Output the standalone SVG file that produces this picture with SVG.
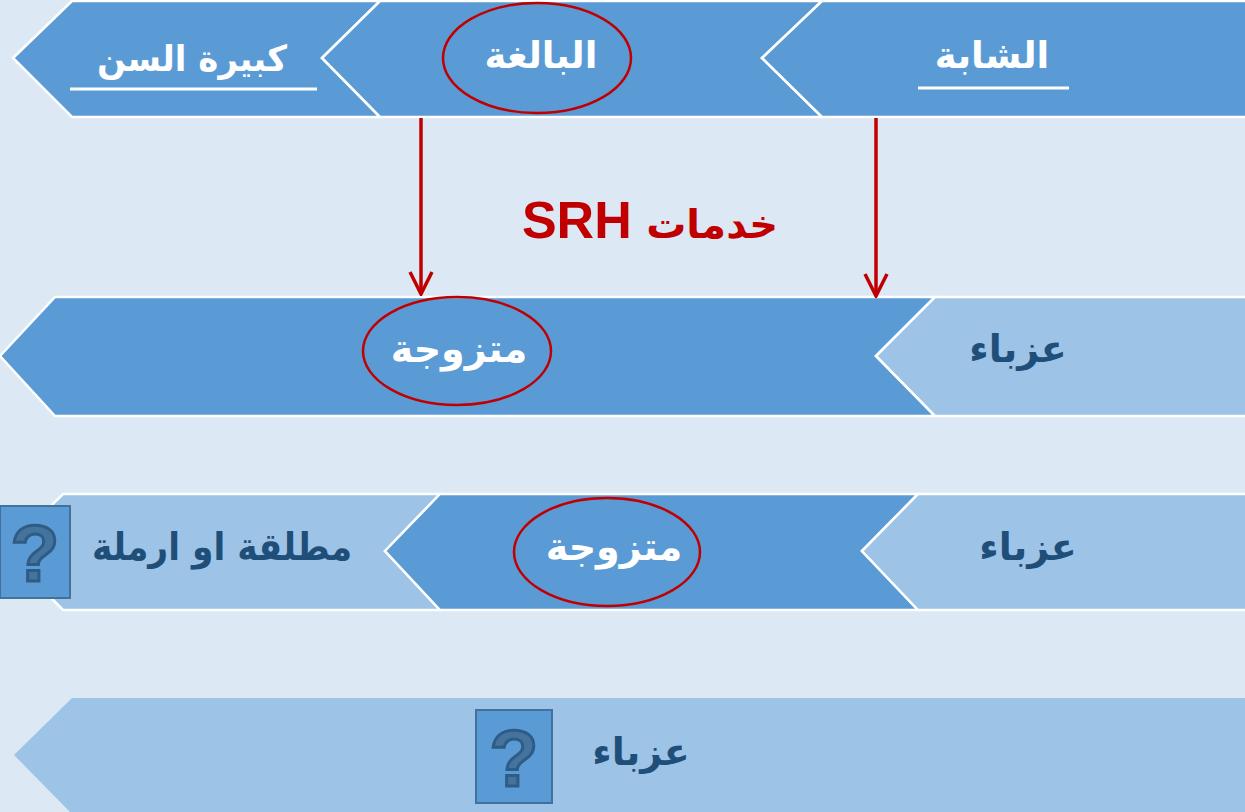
<svg xmlns="http://www.w3.org/2000/svg" width="1245" height="812" viewBox="0 0 1245 812">
<style>
.dark{fill:#5b9bd5;stroke:#ffffff;stroke-width:2.5;stroke-linejoin:miter}
.light{fill:#9dc3e6;stroke:#ffffff;stroke-width:2.5;stroke-linejoin:miter}
.wt{font-family:'DejaVu Sans',sans-serif;font-weight:bold;fill:#ffffff;text-anchor:middle;direction:rtl}
.dt{font-family:'DejaVu Sans',sans-serif;font-weight:bold;fill:#1f4e79;text-anchor:middle;direction:rtl}
.ring{fill:none;stroke:#c00000;stroke-width:2.5}
.ul{stroke:#ffffff;stroke-width:3}
.arrow{stroke:#c00000;stroke-width:3.5;fill:none}
.qbox{fill:#5b9bd5;stroke:#41719c;stroke-width:2}
.q{font-family:'Liberation Sans',sans-serif;font-weight:bold;font-size:80px;fill:#44739e;stroke:#2f5c87;stroke-width:3;text-anchor:middle}
</style>
<defs>
<marker id="head" viewBox="-24 -13 26 26" refX="0" refY="0" markerWidth="26" markerHeight="26" markerUnits="userSpaceOnUse" orient="auto">
<path d="M-22,-11 L0,0 L-22,11" fill="none" stroke="#c00000" stroke-width="3.5"/>
</marker>
</defs>
<rect width="1245" height="812" fill="#dde8f5"/>

<g id="node-kabira">
<polygon class="dark" points="13,58 72,1 380,1 322,58 380,117 72,117"/>
<text class="wt" x="192" y="71" font-size="36" textLength="190" lengthAdjust="spacingAndGlyphs">كبيرة السن</text>
<line class="ul" x1="70" y1="89" x2="317" y2="89"/>
</g>
<g id="node-baligha">
<polygon class="dark" points="322,58 380,1 822,1 762,58 822,117 380,117"/>
<text class="wt" x="541" y="68" font-size="37">البالغة</text>
<ellipse class="ring" cx="537" cy="58" rx="94" ry="55"/>
</g>
<g id="node-shaba">
<polygon class="dark" points="762,58 822,1 1248,1 1248,117 822,117"/>
<text class="wt" x="992" y="68" font-size="37">الشابة</text>
<line class="ul" x1="918" y1="88" x2="1069" y2="88"/>
</g>

<g id="node-row2-mutazawija">
<polygon class="dark" points="0,356 55,297 935,297 876,356 935,416 55,416"/>
<text class="wt" x="459" y="362" font-size="38">متزوجة</text>
<ellipse class="ring" cx="457" cy="351" rx="94" ry="54"/>
</g>
<g id="node-row2-azba">
<polygon class="light" points="876,356 935,297 1248,297 1248,416 935,416"/>
<text class="dt" x="1018" y="362" font-size="38">عزباء</text>
</g>

<g id="node-row3-mutallaqa">
<polygon class="light" points="5,551 63,494 440,494 385,551 440,610 63,610"/>
<text class="dt" x="222" y="560" font-size="38" textLength="260" lengthAdjust="spacingAndGlyphs">مطلقة او ارملة</text>
<rect class="qbox" x="0" y="506" width="70" height="92"/>
<text class="q" x="35" y="581">?</text>
</g>
<g id="node-row3-mutazawija">
<polygon class="dark" points="385,551 440,494 918,494 862,551 918,610 440,610"/>
<text class="wt" x="614" y="560" font-size="38">متزوجة</text>
<ellipse class="ring" cx="607" cy="552" rx="93" ry="54"/>
</g>
<g id="node-row3-azba">
<polygon class="light" points="862,551 918,494 1248,494 1248,610 918,610"/>
<text class="dt" x="1028" y="560" font-size="38">عزباء</text>
</g>

<g id="node-row4-azba">
<polygon points="14,755 72,698 1248,698 1248,814 72,814" fill="#9dc3e6"/>
<rect class="qbox" x="476" y="710" width="76" height="93"/>
<text class="q" x="514" y="786">?</text>
<text class="dt" x="641" y="765" font-size="38">عزباء</text>
</g>

<g id="connectors">
<line class="arrow" x1="421" y1="118" x2="421" y2="294" marker-end="url(#head)"/>
<line class="arrow" x1="876" y1="118" x2="876" y2="296" marker-end="url(#head)"/>
</g>
<text id="label-srh" x="650" y="238" font-family="'Liberation Sans','DejaVu Sans',sans-serif" font-weight="bold" font-size="52" fill="#c00000" text-anchor="middle" direction="rtl"><tspan font-size="40">خدمات</tspan> SRH</text>
</svg>
